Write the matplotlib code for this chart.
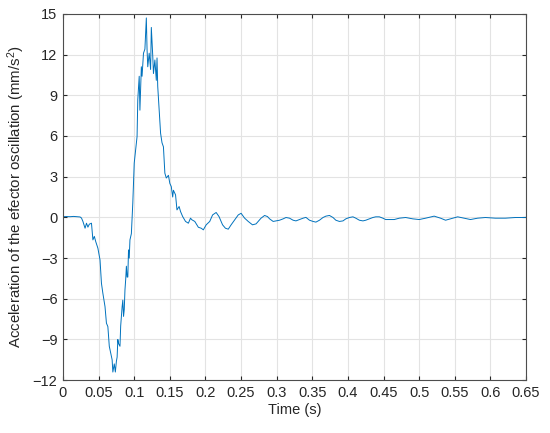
import matplotlib
matplotlib.use('Agg')
import matplotlib.pyplot as plt
import numpy as np

# Acceleration signal
time_s = [0.000, 0.005, 0.010, 0.015, 0.020, 0.024, 0.026, 0.028, 0.031, 0.033,
          0.035, 0.037, 0.040, 0.042, 0.044, 0.046, 0.049, 0.052, 0.054, 0.056,
          0.059, 0.061, 0.063, 0.065, 0.067, 0.069, 0.070, 0.072, 0.0735, 0.075,
          0.076, 0.077, 0.078, 0.080, 0.081, 0.082, 0.083, 0.084, 0.085, 0.086,
          0.087, 0.088, 0.089, 0.090, 0.091, 0.092, 0.093, 0.094, 0.096, 0.098,
          0.100, 0.102, 0.104, 0.105, 0.107, 0.108, 0.110, 0.111, 0.113, 0.115,
          0.117, 0.118, 0.119, 0.121, 0.123, 0.124, 0.126, 0.127, 0.129, 0.131,
          0.132, 0.133, 0.135, 0.137, 0.139, 0.141, 0.143, 0.145, 0.148, 0.150,
          0.152, 0.154, 0.155, 0.158, 0.160, 0.163, 0.165, 0.168, 0.172, 0.176,
          0.179, 0.181, 0.185, 0.190, 0.194, 0.197, 0.201, 0.206, 0.210, 0.215,
          0.219, 0.224, 0.228, 0.232, 0.236, 0.241, 0.246, 0.250, 0.255, 0.260,
          0.266, 0.271, 0.274, 0.278, 0.283, 0.287, 0.290, 0.295, 0.299, 0.304,
          0.309, 0.313, 0.318, 0.323, 0.327, 0.332, 0.337, 0.341, 0.346, 0.351,
          0.355, 0.360, 0.365, 0.369, 0.374, 0.379, 0.383, 0.388, 0.393, 0.397,
          0.402, 0.407, 0.411, 0.416, 0.421, 0.425, 0.430, 0.435, 0.439, 0.444,
          0.449, 0.453, 0.458, 0.465, 0.472, 0.481, 0.491, 0.500, 0.509, 0.521,
          0.530, 0.537, 0.547, 0.554, 0.563, 0.572, 0.582, 0.593, 0.607, 0.621,
          0.635, 0.647, 0.650]
accel = [0.05, 0.06, 0.05, 0.07, 0.05, 0.03, -0.05, -0.30, -0.80, -0.43,
         -0.72, -0.50, -0.43, -1.66, -1.40, -1.79, -2.27, -3.14, -4.86, -5.60,
         -6.58, -7.80, -8.05, -9.50, -10.0, -10.5, -11.4, -10.8, -11.4, -10.6,
         -10.3, -9.0, -9.3, -9.5, -8.0, -7.3, -6.6, -6.1, -7.3, -6.8,
         -5.35, -4.6, -3.6, -4.4, -4.4, -2.4, -3.0, -1.66, -1.2, 1.05,
         4.0, 5.0, 5.96, 8.67, 10.4, 7.9, 11.1, 10.4, 12.1, 12.4,
         14.7, 12.4, 11.1, 12.1, 10.9, 14.0, 11.9, 10.6, 11.6, 10.1,
         11.75, 9.65, 7.9, 6.2, 5.5, 5.2, 3.26, 2.9, 3.1, 2.5,
         2.27, 1.5, 2.0, 1.66, 0.55, 0.80, 0.43, 0.06, -0.30, -0.43,
         -0.06, -0.18, -0.30, -0.73, -0.80, -0.92, -0.55, -0.30, 0.18, 0.36,
         0.06, -0.55, -0.80, -0.87, -0.55, -0.18, 0.18, 0.30, -0.06, -0.30,
         -0.55, -0.48, -0.30, -0.06, 0.14, 0.06, -0.11, -0.30, -0.26, -0.21,
         -0.11, -0.01, -0.06, -0.21, -0.26, -0.16, -0.06, 0.00, -0.21, -0.30,
         -0.35, -0.21, -0.01, 0.09, 0.14, -0.01, -0.21, -0.30, -0.26, -0.11,
         -0.01, 0.04, -0.06, -0.21, -0.26, -0.21, -0.11, -0.01, 0.04, 0.04,
         -0.06, -0.16, -0.16, -0.16, -0.06, -0.01, -0.11, -0.16, -0.06, 0.09,
         -0.06, -0.21, -0.06, 0.04, -0.06, -0.16, -0.06, -0.01, -0.06, -0.06,
         -0.01, -0.01, 0.00]

x_ticks = [0, 0.05, 0.1, 0.15, 0.2, 0.25, 0.3, 0.35, 0.4, 0.45, 0.5, 0.55, 0.6, 0.65]
x_tick_labels = ['0', '0.05', '0.1', '0.15', '0.2', '0.25', '0.3', '0.35',
                 '0.4', '0.45', '0.5', '0.55', '0.6', '0.65']
y_ticks = [-12, -9, -6, -3, 0, 3, 6, 9, 12, 15]

plt.rcParams['font.family'] = ['Liberation Sans', 'DejaVu Sans']
plt.rcParams['mathtext.fontset'] = 'custom'
plt.rcParams['mathtext.rm'] = 'Liberation Sans'
plt.rcParams['mathtext.it'] = 'Liberation Sans'

dark = '#262626'

fig = plt.figure(figsize=(5.5, 4.33), dpi=100)
ax = fig.add_axes([0.1145, 0.122, 0.842, 0.846])

ax.plot(time_s, accel, color='#0072BD', linewidth=0.7)

ax.set_xlim(0, 0.65)
ax.set_ylim(-12, 15)
ax.set_xticks(x_ticks)
ax.set_xticklabels(x_tick_labels)
ax.set_yticks(y_ticks)

# light MATLAB-style grid
ax.grid(True, color='#E3E3E3', linewidth=0.8)
ax.set_axisbelow(True)
ax.tick_params(direction='in', top=True, right=True, length=3, width=0.8,
               colors=dark, labelsize=10.5, pad=4)
for s in ax.spines.values():
    s.set_color('#4D4D4D')
    s.set_linewidth(0.8)

ax.set_xlabel('Time (s)', fontsize=10.5, color=dark, labelpad=2)
ax.set_ylabel('Acceleration of the efector oscillation (mm/s$^2$)',
              fontsize=10.8, color=dark, labelpad=4)

fig.savefig('out.png', dpi=100)
